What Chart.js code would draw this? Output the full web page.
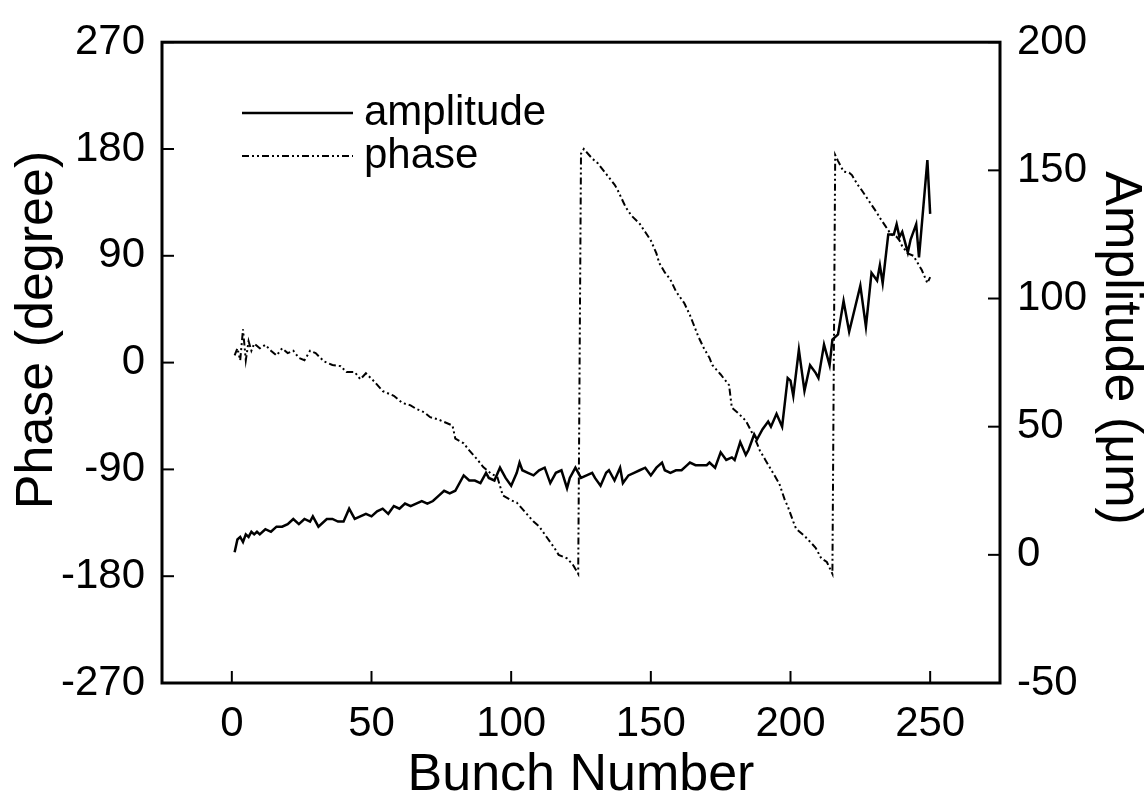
<!DOCTYPE html>
<html>
<head>
<meta charset="utf-8">
<script src="https://cdn.jsdelivr.net/npm/chart.js@4.4.1/dist/chart.umd.min.js"></script>
<style>
  html, body { margin: 0; padding: 0; background: #fff; }
  #wrap { width: 1148px; height: 804px; }
</style>
</head>
<body>
<div id="wrap"><canvas id="c"></canvas></div>
<script>
// bunch numbers and values
const ampBunch = [1,2,3,4,5,6,7,8,9,10,12,14,16,18,20,22,24,26,28,29,31,34,36,38,40,42,44,46,48,50,
  52,54,56,58,60,62,64,66,68,70,72,74,76,78,80,83,85,87,89,91,92,94,96,98,100,102,103,104,106,108,
  110,112,114,116,118,120,121,123,125,127,129,130,132,134,135,137,139,140,142,144,146,148,150,152,154,155,157,159,161,163,
  164,166,168,170,171,173,175,177,179,180,182,184,185,187,188,190,192,193,195,197,199,200,201,203,205,207,209,210,212,214,
  215,217,219,221,223,225,227,229,231,232,233,235,237,238,239,240,242,243,245,246,249,250];
const ampValue = [1,6,7,5,8,7,9,8,9,8,10,9,11,11,12,14,12,14,13,15,11,14,14,13,13,18,14,15,16,15,
  17,18,16,19,18,20,19,20,21,20,21,23,25,24,25,31,29,29,28,32,30,29,34,30,27,32,36,33,32,31,
  33,34,28,32,33,26,30,34,30,31,32,30,27,32,33,29,34,28,31,32,33,34,31,34,36,33,32,33,33,35,
  36,35,35,35,36,34,40,37,38,37,44,39,41,47,45,49,52,50,55,50,69,68,62,80,64,74,71,69,82,74,
  84,86,99,87,96,105,89,110,107,113,106,125,125,129,124,126,118,123,129,116,154,133];

const phaseBunch = [1,2,3,4,5,6,7,8,10,12,14,16,18,20,22,24,26,28,30,33,36,39,41,44,46,48,51,54,58,61,
  64,66,69,71,74,76,79,80,83,85,88,90,93,95,97,100,102,105,108,110,113,116,117,120,122,124,
  125,126,129,131,133,135,137,138,140,141,143,146,148,150,152,153,155,157,159,162,164,165,167,169,171,172,
  175,178,179,181,184,186,188,189,191,193,195,196,198,199,201,202,205,207,209,211,213,215,
  216,217,219,221,222,224,225,227,229,231,232,234,236,238,239,240,242,244,245,247,249,250];
const phaseValue = [6,12,2,28,2,18,10,16,12,15,10,6,12,8,10,4,2,10,8,1,-2,-3,-8,-8,-14,-9,-16,-24,-28,-34,
  -36,-39,-42,-46,-48,-50,-53,-64,-68,-74,-82,-88,-94,-96,-112,-116,-118,-126,-134,-138,-148,-158,-162,-165,-170,-178,
  176,180,172,168,162,156,150,146,136,131,124,117,110,103,92,84,76,70,60,50,40,34,22,12,4,-2,
  -10,-19,-38,-42,-49,-58,-68,-74,-82,-90,-98,-102,-116,-121,-134,-140,-146,-151,-156,-165,-168,-178,
  175,170,161,160,158,150,147,140,133,126,122,115,108,106,103,98,92,90,86,78,67,72];

const xTicks = [0, 50, 100, 150, 200, 250];
const phaseTicks = [-270, -180, -90, 0, 90, 180, 270];
const ampTicks = [-50, 0, 50, 100, 150, 200];
const seriesNames = ['amplitude', 'phase'];
const axisTitles = ['Bunch Number', 'Phase (degree)', 'Amplitude (μm)'];

const toPoints = (xs, ys) => xs.map((x, i) => ({ x: x, y: ys[i] }));
const fixTicks = list => scale => { scale.ticks = list.map(v => ({ value: v })); };

const FAMILY = 'Liberation Sans, Arial, sans-serif';
const tickFont = { family: FAMILY, size: 42 };
const titleFont = { family: FAMILY, size: 52, lineHeight: 1 };
const phaseDash = [7, 3, 2, 3, 2, 3];

// frame, inward tick marks, side titles and the legend
const framePlugin = {
  id: 'frame',
  afterDraw(chart) {
    const { ctx, chartArea: a, scales } = chart;
    ctx.save();
    ctx.strokeStyle = '#000';
    ctx.lineWidth = 2;
    const len = 12;
    xTicks.forEach(v => {
      const px = scales.x.getPixelForValue(v);
      ctx.beginPath(); ctx.moveTo(px, a.bottom); ctx.lineTo(px, a.bottom - len); ctx.stroke();
    });
    phaseTicks.forEach(v => {
      const py = scales.y.getPixelForValue(v);
      ctx.beginPath(); ctx.moveTo(a.left, py); ctx.lineTo(a.left + len, py); ctx.stroke();
    });
    ampTicks.forEach(v => {
      const py = scales.y2.getPixelForValue(v);
      ctx.beginPath(); ctx.moveTo(a.right, py); ctx.lineTo(a.right - len, py); ctx.stroke();
    });
    ctx.lineWidth = 3;
    ctx.strokeRect(a.left, a.top, a.right - a.left, a.bottom - a.top);

    ctx.fillStyle = '#000';
    ctx.textAlign = 'center';
    ctx.textBaseline = 'middle';
    ctx.font = '52px ' + FAMILY;
    // left title
    ctx.save();
    ctx.translate(38, 330);
    ctx.rotate(-Math.PI / 2);
    ctx.fillText(axisTitles[1], 0, 0);
    ctx.restore();
    // right title
    ctx.save();
    ctx.translate(1120, 348);
    ctx.rotate(Math.PI / 2);
    ctx.fillText(axisTitles[2], 0, 0);
    ctx.restore();

    // legend
    ctx.textAlign = 'left';
    ctx.font = '42px ' + FAMILY;
    const rows = [{ y: 113, dash: [], w: 2.5 }, { y: 156, dash: phaseDash, w: 2 }];
    rows.forEach((r, i) => {
      ctx.lineWidth = r.w;
      ctx.setLineDash(r.dash);
      ctx.beginPath(); ctx.moveTo(242, r.y); ctx.lineTo(353, r.y); ctx.stroke();
      ctx.setLineDash([]);
      ctx.fillText(seriesNames[i], 364, r.y);
    });
    ctx.restore();
  }
};

new Chart(document.getElementById('c'), {
  type: 'line',
  data: {
    datasets: [{
      label: seriesNames[0],
      data: toPoints(ampBunch, ampValue),
      yAxisID: 'y2',
      borderColor: '#000',
      borderWidth: 2.5,
      pointRadius: 0,
      tension: 0
    }, {
      label: seriesNames[1],
      data: toPoints(phaseBunch, phaseValue),
      yAxisID: 'y',
      borderColor: '#000',
      borderWidth: 2,
      borderDash: phaseDash,
      pointRadius: 0,
      tension: 0
    }]
  },
  options: {
    responsive: true,
    maintainAspectRatio: false,
    animation: false,
    layout: { padding: { top: 36, left: 0, right: 0, bottom: 0 } },
    plugins: { legend: { display: false }, tooltip: { enabled: false } },
    scales: {
      x: {
        type: 'linear',
        min: -25, max: 275,
        afterBuildTicks: fixTicks(xTicks),
        afterFit: s => { s.height = 121; },
        grid: { display: false, drawTicks: false },
        border: { display: false },
        ticks: { color: '#000', font: tickFont, padding: 16, maxRotation: 0 },
        title: { display: true, text: axisTitles[0], color: '#000', font: titleFont, padding: 2 }
      },
      y: {
        position: 'left',
        min: -270, max: 270,
        afterBuildTicks: fixTicks(phaseTicks),
        afterFit: s => { s.width = 162; },
        grid: { display: false, drawTicks: false },
        border: { display: false },
        ticks: { color: '#000', font: tickFont, padding: 17 }
      },
      y2: {
        position: 'right',
        min: -50, max: 200,
        afterBuildTicks: fixTicks(ampTicks),
        afterFit: s => { s.width = 148; },
        grid: { display: false, drawTicks: false },
        border: { display: false },
        ticks: { color: '#000', font: tickFont, padding: 17 }
      }
    }
  },
  plugins: [framePlugin]
});
</script>
</body>
</html>
